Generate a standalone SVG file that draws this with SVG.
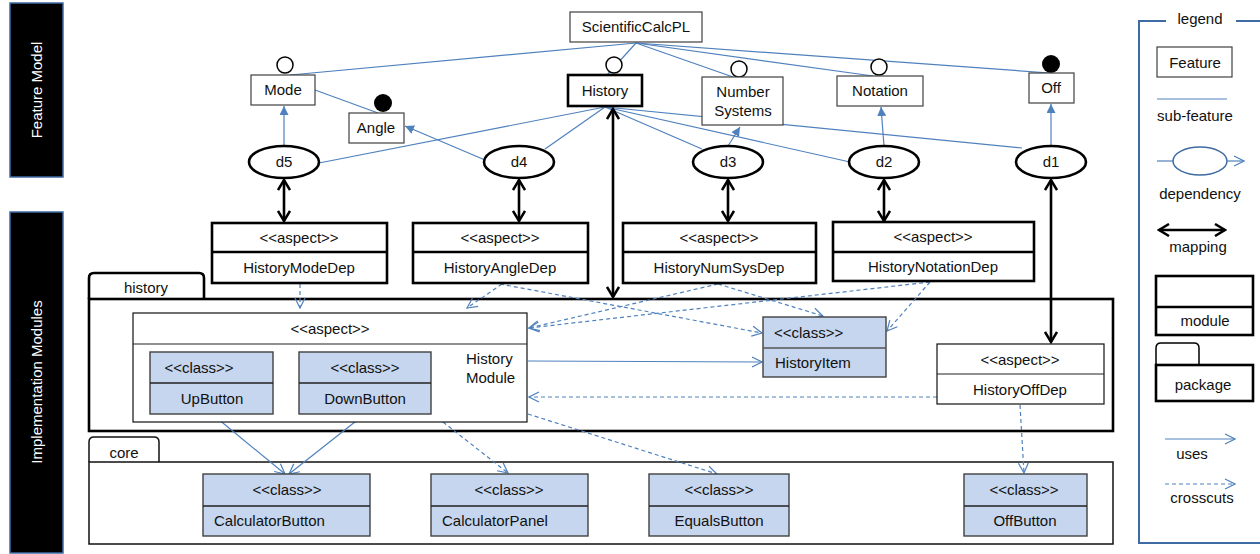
<svg xmlns="http://www.w3.org/2000/svg" width="1260" height="554" viewBox="0 0 1260 554">
<defs>
<style>
text{font-family:"Liberation Sans",Arial,sans-serif;font-size:15px;fill:#111;}
.c{text-anchor:middle;}
.feat{fill:#fff;stroke:#404040;stroke-width:1.2;}
.thick{fill:#fff;stroke:#000;stroke-width:2.6;}
.thin{fill:#fff;stroke:#111;stroke-width:1.2;}
.cls{fill:#C5D6EE;stroke:#404040;stroke-width:1.4;}
.div{stroke:#222;stroke-width:1.6;}
.sub{stroke:#4F81BD;stroke-width:1.2;fill:none;}
.dep{fill:#fff;stroke:#000;stroke-width:2.6;}
.map{stroke:#000;stroke-width:2.6;fill:none;marker-start:url(#mapA);marker-end:url(#mapA);}
.uses{stroke:#4F81BD;stroke-width:1.2;fill:none;marker-end:url(#openA);}
.cc{stroke:#4F81BD;stroke-width:1.2;fill:none;stroke-dasharray:4 3;marker-end:url(#openA);}
.tri{stroke:#4F81BD;stroke-width:1.2;fill:none;marker-end:url(#triA);}
.bar{fill:#000;stroke:#3E6BA3;stroke-width:1.5;}
.bartxt{fill:#fff;text-anchor:middle;}
</style>
<marker id="triA" viewBox="0 0 10 10" refX="10" refY="5" markerWidth="9" markerHeight="9" markerUnits="userSpaceOnUse" orient="auto"><path d="M0,0 L10,5 L0,10 z" fill="#4F81BD"/></marker>
<marker id="openA" viewBox="0 0 12 12" refX="11" refY="6" markerWidth="12" markerHeight="12" markerUnits="userSpaceOnUse" orient="auto"><path d="M1,1 L11,6 L1,11" fill="none" stroke="#4F81BD" stroke-width="1.2"/></marker>
<marker id="mapA" viewBox="0 0 14 14" refX="12" refY="7" markerWidth="14" markerHeight="14" markerUnits="userSpaceOnUse" orient="auto-start-reverse"><path d="M2,1 L12,7 L2,13" fill="none" stroke="#000" stroke-width="2.5"/></marker>
</defs>
<rect width="1260" height="554" fill="#fff"/>

<!-- side bars -->
<g id="bar-feature-model">
<rect class="bar" x="10" y="3" width="53" height="174"/>
<text class="bartxt" transform="translate(42,90) rotate(-90)">Feature Model</text>
</g>
<g id="bar-implementation-modules">
<rect class="bar" x="10" y="212" width="53" height="341"/>
<text class="bartxt" transform="translate(42,382) rotate(-90)">Implementation Modules</text>
</g>

<!-- packages -->
<g id="pkg-history">
<path d="M89,299 L89,278 Q89,273 94,273 L199,273 Q204,273 204,278 L204,299" class="thick"/>
<rect class="thick" x="89" y="299" width="1024" height="132"/>
<text class="c" x="146" y="293">history</text>
</g>
<g id="pkg-core">
<path d="M89,462 L89,442 Q89,437 94,437 L154,437 Q159,437 159,442 L159,462" class="thin" style="stroke-width:1.5"/>
<rect class="thin" x="89" y="462" width="1024" height="82" style="stroke-width:1.5"/>
<text class="c" x="124" y="458">core</text>
</g>

<!-- connectors -->
<g id="connectors">
<!-- sub-feature lines -->
<line class="sub" x1="636" y1="43" x2="290" y2="75"/>
<line class="sub" x1="636" y1="43" x2="607" y2="75"/>
<line class="sub" x1="636" y1="43" x2="733" y2="77"/>
<line class="sub" x1="636" y1="43" x2="873" y2="76"/>
<line class="sub" x1="636" y1="43" x2="1050" y2="73"/>
<line class="sub" x1="315" y1="90" x2="378" y2="113"/>
<!-- dependency lines from History -->
<line class="sub" x1="605" y1="107" x2="319" y2="163"/>
<line class="sub" x1="605" y1="107" x2="545" y2="149"/>
<line class="sub" x1="605" y1="107" x2="702" y2="149"/>
<line class="sub" x1="605" y1="107" x2="850" y2="162"/>
<line class="sub" x1="605" y1="107" x2="1022" y2="148"/>
<!-- dependency arrows -->
<line class="tri" x1="284" y1="145" x2="284" y2="106"/>
<line class="tri" x1="485" y1="160" x2="405" y2="126"/>
<line class="tri" x1="728" y1="146" x2="740" y2="127"/>
<line class="tri" x1="884" y1="146" x2="881" y2="107"/>
<line class="tri" x1="1051" y1="146" x2="1051" y2="104"/>
<!-- mappings -->
<line class="map" x1="284" y1="180" x2="284" y2="221"/>
<line class="map" x1="519" y1="180" x2="519" y2="221"/>
<line class="map" x1="613" y1="109" x2="613" y2="297"/>
<line class="map" x1="728" y1="180" x2="728" y2="221"/>
<line class="map" x1="884" y1="180" x2="884" y2="221"/>
<line class="map" x1="1051" y1="180" x2="1051" y2="342"/>
<!-- uses -->
<line class="uses" x1="528" y1="361" x2="762" y2="362"/>
<line class="uses" x1="212" y1="414" x2="285" y2="474"/>
<line class="uses" x1="365" y1="414" x2="289" y2="474"/>
<!-- crosscuts -->
<line class="cc" x1="300" y1="284" x2="300" y2="308"/>
<line class="cc" x1="502" y1="284" x2="467" y2="308"/>
<line class="cc" x1="500" y1="284" x2="762" y2="333"/>
<line class="cc" x1="718" y1="284" x2="529" y2="328"/>
<line class="cc" x1="718" y1="284" x2="823" y2="316"/>
<line class="cc" x1="930" y1="282" x2="529" y2="328"/>
<line class="cc" x1="930" y1="282" x2="887" y2="331"/>
<line class="cc" x1="937" y1="397" x2="529" y2="397"/>
<line class="cc" x1="1020" y1="405" x2="1024" y2="473"/>
<line class="cc" x1="528" y1="414" x2="717" y2="474"/>
<line class="cc" x1="443" y1="422" x2="508" y2="473"/>
</g>

<!-- feature model nodes -->
<g id="ScientificCalcPL">
<rect class="feat" x="570" y="12" width="132" height="30"/>
<text class="c" x="636" y="32">ScientificCalcPL</text>
</g>
<g id="Mode">
<circle cx="285" cy="65" r="8" fill="#fff" stroke="#000" stroke-width="1.5"/>
<rect class="feat" x="251" y="75" width="64" height="30"/>
<text class="c" x="283" y="95">Mode</text>
</g>
<g id="Angle">
<circle cx="383" cy="103" r="9" fill="#000"/>
<rect class="feat" x="349" y="113" width="55" height="30"/>
<text class="c" x="376" y="133">Angle</text>
</g>
<g id="History">
<circle cx="614" cy="65" r="8" fill="#fff" stroke="#000" stroke-width="1.5"/>
<rect class="thick" x="568" y="75" width="74" height="31"/>
<text class="c" x="605" y="96">History</text>
</g>
<g id="NumberSystems">
<circle cx="739" cy="69" r="8" fill="#fff" stroke="#000" stroke-width="1.5"/>
<rect class="feat" x="702" y="77" width="81" height="48"/>
<text class="c" x="743" y="97">Number</text>
<text class="c" x="743" y="116">Systems</text>
</g>
<g id="Notation">
<circle cx="879" cy="67" r="8" fill="#fff" stroke="#000" stroke-width="1.5"/>
<rect class="feat" x="837" y="76" width="86" height="30"/>
<text class="c" x="880" y="96">Notation</text>
</g>
<g id="Off">
<circle cx="1051" cy="64" r="9" fill="#000"/>
<rect class="feat" x="1029" y="73" width="45" height="30"/>
<text class="c" x="1051" y="93">Off</text>
</g>

<!-- dependencies -->
<g id="d5"><ellipse class="dep" cx="284" cy="162" rx="35" ry="16"/><text class="c" x="284" y="167">d5</text></g>
<g id="d4"><ellipse class="dep" cx="519" cy="162" rx="35" ry="16"/><text class="c" x="519" y="167">d4</text></g>
<g id="d3"><ellipse class="dep" cx="728" cy="162" rx="35" ry="16"/><text class="c" x="728" y="167">d3</text></g>
<g id="d2"><ellipse class="dep" cx="884" cy="162" rx="35" ry="16"/><text class="c" x="884" y="167">d2</text></g>
<g id="d1"><ellipse class="dep" cx="1051" cy="162" rx="35" ry="16"/><text class="c" x="1051" y="167">d1</text></g>

<!-- dependency aspects -->
<g id="HistoryModeDep">
<rect class="thick" x="212" y="223" width="175" height="60"/>
<line class="div" x1="212" y1="252" x2="387" y2="252" style="stroke-width:2.4;stroke:#000"/>
<text class="c" x="299" y="243">&lt;&lt;aspect&gt;&gt;</text>
<text class="c" x="299" y="273">HistoryModeDep</text>
</g>
<g id="HistoryAngleDep">
<rect class="thick" x="413" y="223" width="175" height="60"/>
<line class="div" x1="413" y1="252" x2="588" y2="252" style="stroke-width:2.4;stroke:#000"/>
<text class="c" x="500" y="243">&lt;&lt;aspect&gt;&gt;</text>
<text class="c" x="500" y="273">HistoryAngleDep</text>
</g>
<g id="HistoryNumSysDep">
<rect class="thick" x="623" y="223" width="193" height="60"/>
<line class="div" x1="623" y1="252" x2="816" y2="252" style="stroke-width:2.4;stroke:#000"/>
<text class="c" x="719" y="243">&lt;&lt;aspect&gt;&gt;</text>
<text class="c" x="719" y="273">HistoryNumSysDep</text>
</g>
<g id="HistoryNotationDep">
<rect class="thick" x="833" y="222" width="201" height="59"/>
<line class="div" x1="833" y1="252" x2="1034" y2="252" style="stroke-width:2.4;stroke:#000"/>
<text class="c" x="933" y="242">&lt;&lt;aspect&gt;&gt;</text>
<text class="c" x="933" y="272">HistoryNotationDep</text>
</g>

<!-- history module -->
<g id="HistoryModule">
<rect class="thin" x="133" y="313" width="394" height="109"/>
<line class="div" x1="133" y1="344" x2="527" y2="344" style="stroke-width:1.2"/>
<text class="c" x="330" y="334">&lt;&lt;aspect&gt;&gt;</text>
<text x="466" y="364">History</text>
<text x="466" y="383">Module</text>
</g>
<g id="UpButton">
<rect class="cls" x="150" y="352" width="123" height="62"/>
<line class="div" x1="150" y1="383" x2="273" y2="383"/>
<text class="c" x="199" y="373">&lt;&lt;class&gt;&gt;</text>
<text class="c" x="212" y="404">UpButton</text>
</g>
<g id="DownButton">
<rect class="cls" x="299" y="352" width="132" height="62"/>
<line class="div" x1="299" y1="383" x2="431" y2="383"/>
<text class="c" x="365" y="373">&lt;&lt;class&gt;&gt;</text>
<text class="c" x="365" y="404">DownButton</text>
</g>
<g id="HistoryItem">
<rect class="cls" x="763" y="317" width="123" height="60"/>
<line class="div" x1="763" y1="348" x2="886" y2="348" style="stroke:#555"/>
<text x="774" y="338">&lt;&lt;class&gt;&gt;</text>
<text x="775" y="368">HistoryItem</text>
</g>
<g id="HistoryOffDep">
<rect class="thin" x="937" y="344" width="167" height="60"/>
<line class="div" x1="937" y1="374" x2="1104" y2="374" style="stroke-width:1.2"/>
<text class="c" x="1020" y="365">&lt;&lt;aspect&gt;&gt;</text>
<text class="c" x="1020" y="395">HistoryOffDep</text>
</g>

<!-- core classes -->
<g id="CalculatorButton">
<rect class="cls" x="203" y="474" width="167" height="62"/>
<line class="div" x1="203" y1="506" x2="370" y2="506"/>
<text class="c" x="287" y="495">&lt;&lt;class&gt;&gt;</text>
<text x="214" y="526">CalculatorButton</text>
</g>
<g id="CalculatorPanel">
<rect class="cls" x="431" y="474" width="157" height="62"/>
<line class="div" x1="431" y1="506" x2="588" y2="506"/>
<text class="c" x="509" y="495">&lt;&lt;class&gt;&gt;</text>
<text x="442" y="526">CalculatorPanel</text>
</g>
<g id="EqualsButton">
<rect class="cls" x="649" y="474" width="140" height="62"/>
<line class="div" x1="649" y1="506" x2="789" y2="506"/>
<text class="c" x="719" y="495">&lt;&lt;class&gt;&gt;</text>
<text class="c" x="719" y="526">EqualsButton</text>
</g>
<g id="OffButton">
<rect class="cls" x="964" y="474" width="123" height="62"/>
<line class="div" x1="964" y1="506" x2="1087" y2="506"/>
<text class="c" x="1024" y="495">&lt;&lt;class&gt;&gt;</text>
<text class="c" x="1025" y="526">OffButton</text>
</g>

<!-- legend -->
<g id="legend">
<path d="M1166,21 L1139,21 L1139,543 L1262,543 M1236,21 L1262,21" fill="none" stroke="#3E6BA3" stroke-width="2"/>
<text class="c" x="1200" y="24">legend</text>
<rect class="feat" x="1157" y="47" width="75" height="30"/>
<text class="c" x="1195" y="68">Feature</text>
<line class="sub" x1="1157" y1="99" x2="1227" y2="99"/>
<text class="c" x="1195" y="121">sub-feature</text>
<line x1="1157" y1="161" x2="1173" y2="161" stroke="#4F81BD" stroke-width="1.2"/>
<ellipse cx="1200" cy="161" rx="27" ry="14" fill="none" stroke="#3E6BA3" stroke-width="1.5"/>
<line class="uses" x1="1227" y1="161" x2="1244" y2="161"/>
<text class="c" x="1200" y="199">dependency</text>
<line class="map" x1="1159" y1="230" x2="1225" y2="230"/>
<text class="c" x="1198" y="252">mapping</text>
<rect class="thick" x="1156" y="276" width="97" height="59"/>
<line x1="1156" y1="307" x2="1253" y2="307" stroke="#000" stroke-width="2.4"/>
<text class="c" x="1205" y="326">module</text>
<path d="M1156,365 L1156,348 Q1156,343 1161,343 L1194,343 Q1199,343 1199,348 L1199,365" fill="#fff" stroke="#000" stroke-width="1.5"/>
<rect class="thick" x="1156" y="365" width="97" height="36"/>
<text class="c" x="1203" y="390">package</text>
<line class="uses" x1="1165" y1="439" x2="1235" y2="439"/>
<text class="c" x="1192" y="459">uses</text>
<line class="cc" x1="1165" y1="484" x2="1235" y2="484"/>
<text class="c" x="1202" y="503">crosscuts</text>
</g>
</svg>
